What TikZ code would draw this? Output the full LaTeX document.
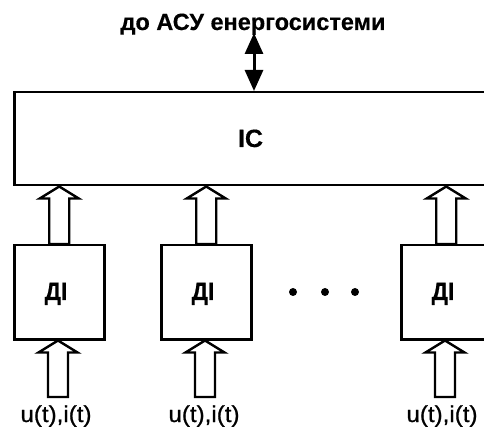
\documentclass[tikz,border=0pt]{standalone}
\usepackage{fontspec}
\setmainfont{Liberation Sans}
\usetikzlibrary{arrows.meta,calc}
\newcommand\hollowarrow[2]{%
  \draw[hollow] let \p1=(#1), \p2=(#2) in
    (\x1-10pt,\y1) -- (\x1-10pt,\y2-12pt) -- (\x1-19.5pt,\y2-12pt) -- (\x2,\y2)
    -- (\x1+19.5pt,\y2-12pt) -- (\x1+10pt,\y2-12pt) -- (\x1+10pt,\y1) -- cycle;}
\begin{document}
\begin{tikzpicture}[x=1pt,y=-1pt,
  box/.style={draw, line width=2.5pt, inner sep=0pt},
  hollow/.style={draw, line width=2.4pt, line join=miter, fill=white},
  dibox/.style={box, minimum width=90pt, minimum height=94pt, anchor=north west},
  lbl/.style={font=\fontsize{25}{27}\selectfont\bfseries\addfontfeature{FakeBold=0.4}, inner sep=0pt, anchor=base},
  inlbl/.style={font=\fontsize{23}{25}\selectfont\addfontfeature{FakeBold=0.8}, inner sep=0pt, anchor=base},
  dot/.style={circle, fill=black, inner sep=0pt, minimum size=8pt}]
\useasboundingbox (0,0) rectangle (484,427);
\clip (0,0) rectangle (484,427);
% title and bidirectional link
\node[font=\fontsize{23.5}{25}\selectfont\bfseries\addfontfeature{FakeBold=0.4}, inner sep=0pt, anchor=base] (title) at (253,30) {до АСУ енергосистеми};
% IC box
\node[box, minimum width=487pt, minimum height=93pt, anchor=north west] (ic) at (13,91) {};
\node[lbl] (ictext) at (250.5,147) {ІС};
\coordinate (up) at (254,34);
\draw[line width=3pt, {Triangle[length=21pt,width=18pt]}-{Triangle[length=21pt,width=18pt]}, shorten <=-1pt] (up) -- (up |- ic.north);
% DI boxes
\node[dibox] (d1) at (13,244) {};
\node[dibox] (d2) at (160,244) {};
\node[dibox] (d3) at (400,244) {};
\node[lbl] (t1) at (56,300) {\scalebox{0.92}[1]{ДІ}};
\node[lbl] (t2) at (203,300) {\scalebox{0.92}[1]{ДІ}};
\node[lbl] (t3) at (443,300) {\scalebox{0.92}[1]{ДІ}};
% dots
\node[dot] (p1) at (293,292) {};
\node[dot] (p2) at (325,292) {};
\node[dot] (p3) at (355,292) {};
% arrows DI -> IC
\hollowarrow{d1.north}{d1.north |- ic.south}
\hollowarrow{d2.north}{d2.north |- ic.south}
\hollowarrow{d3.north}{d3.north |- ic.south}
% inputs
\coordinate (i1) at (58,397);
\coordinate (i2) at (205,397);
\coordinate (i3) at (445,397);
\hollowarrow{i1}{i1 |- d1.south}
\hollowarrow{i2}{i2 |- d2.south}
\hollowarrow{i3}{i3 |- d3.south}
\node[inlbl] (u1) at (56,422) {\scalebox{1.05}[1]{u(t),i(t)}};
\node[inlbl] (u2) at (204,422) {\scalebox{1.05}[1]{u(t),i(t)}};
\node[inlbl] (u3) at (442,422) {\scalebox{1.05}[1]{u(t),i(t)}};
\end{tikzpicture}
\end{document}
